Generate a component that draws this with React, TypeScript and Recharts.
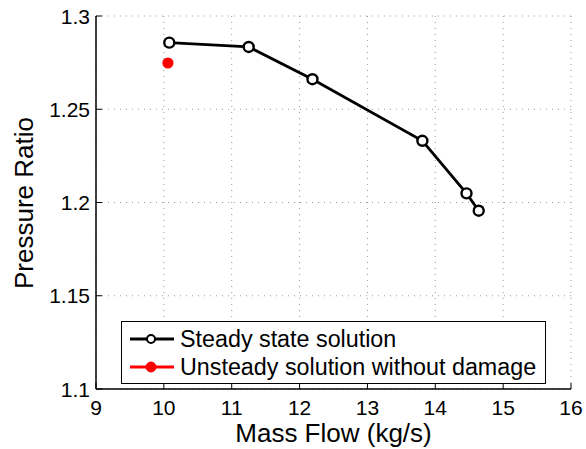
import React from "react";
import {
  CartesianGrid,
  Legend,
  Line,
  LineChart,
  XAxis,
  YAxis,
} from "recharts";

// steady state solution
const massFlow = [10.08, 11.25, 12.19, 13.81, 14.46, 14.64];
const pressureRatio = [1.2857, 1.2834, 1.2661, 1.2331, 1.2049, 1.1956];

// unsteady solution without damage
const unsteadyFlow = [10.06];
const unsteadyRatio = [1.2748];

const xTicks = [9, 10, 11, 12, 13, 14, 15, 16];
const yTicks = [1.1, 1.15, 1.2, 1.25, 1.3];

const steadyName = "Steady state solution";
const unsteadyName = "Unsteady solution without damage";

const FONT = "'Liberation Sans', Arial, Helvetica, sans-serif";

const steadyData = massFlow.map((x, i) => ({ x, y: pressureRatio[i] }));
const unsteadyData = unsteadyFlow.map((x, i) => ({ x, y: unsteadyRatio[i] }));

const BottomTick = (props: any) => {
  const { x, y, payload } = props;
  return (
    <g>
      <line x1={x} x2={x} y1={y} y2={y - 6} stroke="#000" strokeWidth={1} />
      <text x={x} y={y + 26} textAnchor="middle" fontSize={21} fontFamily={FONT} fill="#000">
        {payload.value}
      </text>
    </g>
  );
};

const LeftTick = (props: any) => {
  const { x, y, payload } = props;
  return (
    <g>
      <line x1={x} x2={x + 6} y1={y} y2={y} stroke="#000" strokeWidth={1} />
      <text x={x - 6} y={y + 7.5} textAnchor="end" fontSize={21} fontFamily={FONT} fill="#000">
        {payload.value}
      </text>
    </g>
  );
};

const TopTick = (props: any) => {
  const { x, y } = props;
  return <line x1={x} x2={x} y1={y} y2={y + 6} stroke="#000" strokeWidth={1} />;
};

const RightTick = (props: any) => {
  const { x, y } = props;
  return <line x1={x} x2={x - 6} y1={y} y2={y} stroke="#000" strokeWidth={1} />;
};

const LegendBox = () => {
  const items = [
    { name: steadyName, color: "#000", hollow: true },
    { name: unsteadyName, color: "#ff0000", hollow: false },
  ];
  return (
    <div
      style={{
        border: "1px solid #000",
        background: "#fff",
        width: 423,
        paddingTop: 3,
        paddingBottom: 2,
        fontFamily: FONT,
        fontSize: 23.3,
        color: "#000",
      }}
    >
      {items.map((it) => (
        <div key={it.name} style={{ display: "flex", alignItems: "center", height: 28, paddingLeft: 8 }}>
          <svg width={44} height={28} style={{ marginRight: 6 }}>
            <line x1={0} x2={44} y1={14} y2={14} stroke={it.color} strokeWidth={2.8} />
            {it.hollow ? (
              <circle cx={21} cy={14} r={4} fill="#fff" stroke={it.color} strokeWidth={2} />
            ) : (
              <circle cx={21} cy={14} r={5} fill={it.color} stroke={it.color} />
            )}
          </svg>
          <span style={{ lineHeight: "28px", whiteSpace: "nowrap" }}>{it.name}</span>
        </div>
      ))}
    </div>
  );
};

export default function App() {
  return (
    <div style={{ position: "absolute", left: 0, top: 0, background: "#fff" }}>
      <LineChart
        width={586}
        height={449}
        margin={{ top: 16, right: 15, left: 0, bottom: 0 }}
        style={{ fontFamily: FONT }}
      >
        <CartesianGrid stroke="#999" strokeDasharray="1 5" />
        <XAxis
          dataKey="x"
          type="number"
          domain={[9, 16]}
          ticks={xTicks}
          height={60}
          tickSize={0}
          tickMargin={0}
          tick={<BottomTick />}
          axisLine={{ stroke: "#000", strokeWidth: 1.5 }}
          allowDataOverflow
          label={(p: any) => {
            const vb = p.viewBox;
            return (
              <text
                x={vb.x + vb.width / 2}
                y={vb.y + 53}
                textAnchor="middle"
                fontSize={26}
                fontFamily={FONT}
                fill="#000"
              >
                Mass Flow (kg/s)
              </text>
            );
          }}
        />
        <XAxis
          xAxisId="top"
          orientation="top"
          dataKey="x"
          type="number"
          domain={[9, 16]}
          ticks={xTicks}
          height={0}
          tickSize={0}
          tickMargin={0}
          tick={<TopTick />}
          axisLine={{ stroke: "#000", strokeWidth: 1.5 }}
          allowDataOverflow
        />
        <YAxis
          dataKey="y"
          type="number"
          domain={[1.1, 1.3]}
          ticks={yTicks}
          width={96}
          tickSize={0}
          tickMargin={0}
          tick={<LeftTick />}
          axisLine={{ stroke: "#000", strokeWidth: 1.5 }}
          allowDataOverflow
          label={() => (
            <text
              x={33}
              y={203}
              transform="rotate(-90 33 203)"
              textAnchor="middle"
              fontSize={26}
              fontFamily={FONT}
              fill="#000"
            >
              Pressure Ratio
            </text>
          )}
        />
        <YAxis
          yAxisId="right"
          orientation="right"
          dataKey="y"
          type="number"
          domain={[1.1, 1.3]}
          ticks={yTicks}
          width={0}
          tickSize={0}
          tickMargin={0}
          tick={<RightTick />}
          axisLine={{ stroke: "#000", strokeWidth: 1.5 }}
          allowDataOverflow
        />
        <Line
          data={steadyData}
          dataKey="y"
          name={steadyName}
          stroke="#000"
          strokeWidth={2.8}
          dot={{ r: 5, fill: "#fff", stroke: "#000", strokeWidth: 2.4 }}
          isAnimationActive={false}
        />
        <Line
          data={unsteadyData}
          dataKey="y"
          name={unsteadyName}
          stroke="#ff0000"
          strokeWidth={2.8}
          dot={{ r: 5, fill: "#ff0000", stroke: "#ff0000", strokeWidth: 1.2 }}
          isAnimationActive={false}
        />
        <Legend
          layout="vertical"
          align="center"
          verticalAlign="middle"
          content={<LegendBox />}
          wrapperStyle={{ left: 121, top: 321, width: "auto", height: "auto" }}
        />
      </LineChart>
    </div>
  );
}
